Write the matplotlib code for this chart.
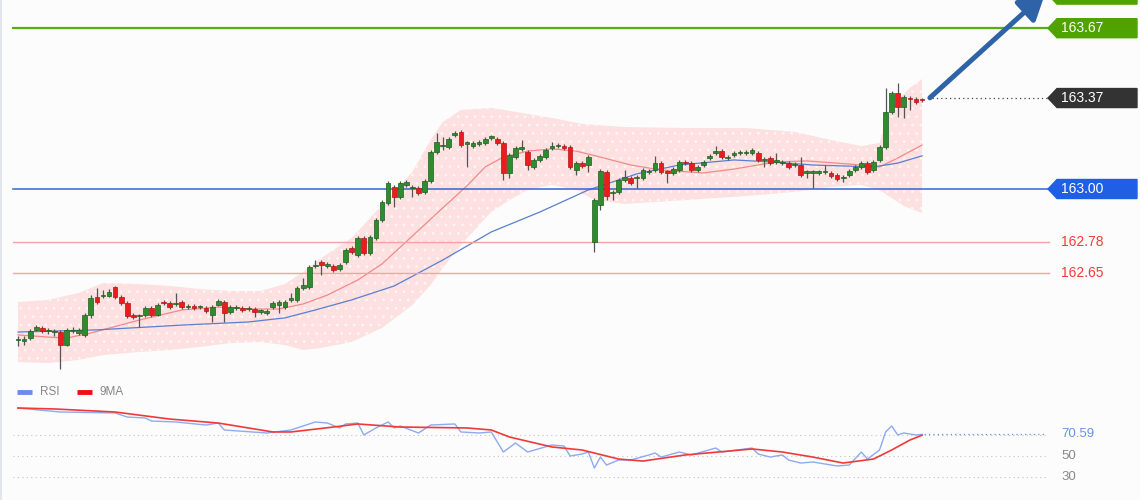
import matplotlib
matplotlib.use("Agg")
import matplotlib.pyplot as plt
from matplotlib.patches import Polygon
import numpy as np

plt.rcParams['font.family'] = ['Liberation Sans', 'DejaVu Sans']
plt.rcParams['hatch.linewidth'] = 0.7

# --- candles (150 bars) ---
opens = [
    162.371, 162.367, 162.379, 162.413, 162.421, 162.408, 162.404, 162.404, 162.350, 162.408,
    162.400, 162.392, 162.475, 162.550, 162.554, 162.554, 162.592, 162.550, 162.525, 162.475,
    162.471, 162.475, 162.504, 162.475, 162.529, 162.525, 162.521, 162.529, 162.508, 162.513,
    162.508, 162.504, 162.475, 162.517, 162.529, 162.488, 162.504, 162.504, 162.500, 162.500,
    162.488, 162.483, 162.508, 162.517, 162.508, 162.538, 162.538, 162.588, 162.592, 162.679,
    162.696, 162.679, 162.679, 162.667, 162.696, 162.754, 162.725, 162.796, 162.733, 162.796,
    162.871, 162.942, 163.008, 162.967, 163.017, 163.004, 163.004, 162.988, 163.033, 163.154,
    163.179, 163.175, 163.225, 163.238, 163.188, 163.179, 163.188, 163.192, 163.213, 163.208,
    163.192, 163.067, 163.133, 163.167, 163.154, 163.092, 163.121, 163.133, 163.171, 163.179,
    163.179, 163.175, 163.079, 163.108, 163.100, 162.779, 162.933, 163.071, 162.983, 162.988,
    163.038, 163.046, 163.046, 163.046, 163.071, 163.079, 163.108, 163.071, 163.067, 163.079,
    163.113, 163.108, 163.079, 163.100, 163.129, 163.150, 163.158, 163.129, 163.142, 163.150,
    163.150, 163.150, 163.150, 163.121, 163.129, 163.113, 163.108, 163.108, 163.100, 163.100,
    163.067, 163.067, 163.067, 163.071, 163.067, 163.058, 163.046, 163.058, 163.079, 163.092,
    163.108, 163.079, 163.121, 163.175, 163.321, 163.400, 163.342, 163.379, 163.375, 163.371,
]
closes = [
    162.375, 162.371, 162.408, 162.425, 162.408, 162.413, 162.408, 162.350, 162.413, 162.413,
    162.413, 162.475, 162.546, 162.529, 162.558, 162.571, 162.550, 162.525, 162.471, 162.467,
    162.475, 162.504, 162.475, 162.517, 162.525, 162.508, 162.525, 162.508, 162.513, 162.504,
    162.513, 162.492, 162.508, 162.533, 162.483, 162.508, 162.508, 162.496, 162.504, 162.488,
    162.492, 162.492, 162.525, 162.529, 162.529, 162.542, 162.588, 162.600, 162.675, 162.683,
    162.683, 162.688, 162.663, 162.683, 162.746, 162.738, 162.796, 162.733, 162.800, 162.871,
    162.946, 163.025, 162.967, 163.025, 163.029, 163.008, 162.983, 163.033, 163.154, 163.196,
    163.183, 163.208, 163.233, 163.183, 163.192, 163.192, 163.196, 163.208, 163.217, 163.192,
    163.067, 163.142, 163.171, 163.171, 163.100, 163.121, 163.138, 163.163, 163.179, 163.183,
    163.171, 163.092, 163.108, 163.096, 163.133, 162.954, 163.075, 162.971, 162.988, 163.038,
    163.050, 163.025, 163.050, 163.079, 163.075, 163.108, 163.071, 163.067, 163.083, 163.113,
    163.108, 163.079, 163.092, 163.113, 163.138, 163.158, 163.133, 163.133, 163.150, 163.154,
    163.154, 163.163, 163.121, 163.125, 163.108, 163.117, 163.113, 163.092, 163.104, 163.058,
    163.071, 163.071, 163.071, 163.075, 163.054, 163.042, 163.050, 163.075, 163.092, 163.108,
    163.071, 163.113, 163.175, 163.321, 163.400, 163.342, 163.383, 163.375, 163.363, 163.370,
]
highs = [
    162.388, 162.388, 162.417, 162.433, 162.429, 162.421, 162.417, 162.413, 162.421, 162.425,
    162.421, 162.483, 162.558, 162.588, 162.579, 162.583, 162.596, 162.558, 162.533, 162.483,
    162.479, 162.513, 162.513, 162.525, 162.538, 162.533, 162.567, 162.538, 162.521, 162.521,
    162.517, 162.513, 162.517, 162.542, 162.538, 162.517, 162.517, 162.513, 162.513, 162.508,
    162.500, 162.500, 162.533, 162.538, 162.538, 162.567, 162.596, 162.629, 162.683, 162.704,
    162.704, 162.696, 162.688, 162.692, 162.754, 162.763, 162.804, 162.804, 162.808, 162.879,
    162.954, 163.033, 163.017, 163.033, 163.038, 163.017, 163.013, 163.042, 163.163, 163.233,
    163.217, 163.217, 163.242, 163.246, 163.200, 163.200, 163.204, 163.217, 163.225, 163.217,
    163.200, 163.150, 163.179, 163.204, 163.163, 163.129, 163.146, 163.171, 163.196, 163.192,
    163.188, 163.183, 163.117, 163.117, 163.142, 162.963, 163.083, 163.079, 162.996, 163.046,
    163.079, 163.054, 163.058, 163.088, 163.083, 163.138, 163.117, 163.079, 163.092, 163.121,
    163.121, 163.117, 163.100, 163.121, 163.146, 163.179, 163.167, 163.142, 163.158, 163.163,
    163.163, 163.171, 163.158, 163.133, 163.138, 163.150, 163.121, 163.117, 163.113, 163.133,
    163.079, 163.079, 163.079, 163.100, 163.075, 163.067, 163.058, 163.083, 163.100, 163.117,
    163.117, 163.121, 163.183, 163.421, 163.408, 163.442, 163.392, 163.388, 163.383, 163.379,
]
lows = [
    162.346, 162.350, 162.371, 162.408, 162.400, 162.396, 162.388, 162.250, 162.346, 162.400,
    162.392, 162.383, 162.463, 162.521, 162.546, 162.550, 162.542, 162.517, 162.463, 162.458,
    162.425, 162.467, 162.467, 162.471, 162.517, 162.500, 162.513, 162.500, 162.500, 162.496,
    162.500, 162.483, 162.446, 162.513, 162.446, 162.479, 162.496, 162.488, 162.492, 162.467,
    162.479, 162.475, 162.500, 162.483, 162.500, 162.529, 162.529, 162.579, 162.583, 162.671,
    162.642, 162.671, 162.654, 162.658, 162.688, 162.729, 162.717, 162.725, 162.725, 162.788,
    162.863, 162.933, 162.925, 162.958, 163.008, 162.967, 162.975, 162.979, 163.025, 163.146,
    163.163, 163.167, 163.217, 163.175, 163.092, 163.171, 163.179, 163.183, 163.204, 163.183,
    163.038, 163.046, 163.125, 163.158, 163.079, 163.083, 163.113, 163.125, 163.163, 163.171,
    163.163, 163.083, 163.058, 163.088, 163.071, 162.738, 162.913, 162.954, 162.954, 162.979,
    163.029, 163.017, 163.004, 163.038, 163.063, 163.071, 163.063, 163.025, 163.058, 163.071,
    163.100, 163.071, 163.071, 163.092, 163.121, 163.142, 163.125, 163.121, 163.133, 163.142,
    163.142, 163.142, 163.113, 163.092, 163.100, 163.104, 163.100, 163.083, 163.092, 163.050,
    163.046, 163.004, 163.058, 163.063, 163.046, 163.033, 163.029, 163.050, 163.071, 163.083,
    163.063, 163.071, 163.113, 163.167, 163.313, 163.300, 163.296, 163.329, 163.354, 163.363,
]

# --- Bollinger band edges and moving averages (read at bar indices) ---
upper_idx = [0, 5, 10, 14, 20, 25, 30, 35, 40, 44, 47, 50, 55, 60, 65, 68, 70, 73, 78, 83,
             88, 93, 100, 110, 120, 128, 134, 139, 142, 143, 145, 147, 149]
upper_band = [162.529, 162.538, 162.567, 162.608, 162.604, 162.596, 162.583, 162.575, 162.575,
              162.604, 162.654, 162.713, 162.796, 162.933, 163.071, 163.204, 163.279, 163.329,
              163.338, 163.317, 163.296, 163.271, 163.258, 163.254, 163.254, 163.238, 163.204,
              163.179, 163.192, 163.288, 163.371, 163.421, 163.458]
lower_idx = [0, 5, 10, 14, 20, 25, 30, 35, 40, 44, 47, 50, 55, 60, 65, 68, 70, 73, 76, 78,
             81, 84, 88, 92, 95, 100, 110, 120, 128, 134, 139, 142, 144, 146, 149]
lower_band = [162.279, 162.275, 162.288, 162.308, 162.321, 162.329, 162.342, 162.358, 162.363,
              162.350, 162.329, 162.338, 162.363, 162.421, 162.517, 162.600, 162.671, 162.767,
              162.850, 162.904, 162.954, 162.996, 163.017, 162.996, 162.954, 162.938, 162.954,
              162.971, 162.988, 163.008, 163.017, 162.996, 162.963, 162.929, 162.900]
ma20_idx = [0, 5, 8, 12, 20, 27, 33, 38, 43, 47, 51, 56, 60, 65, 70, 74, 77, 80, 84, 88,
            92, 96, 101, 106, 113, 118, 125, 130, 137, 142, 145, 149]
ma20 = [162.392, 162.383, 162.379, 162.400, 162.454, 162.496, 162.508, 162.500, 162.500,
        162.521, 162.558, 162.621, 162.688, 162.804, 162.921, 163.013, 163.092, 163.133,
        163.158, 163.167, 163.158, 163.133, 163.100, 163.079, 163.067, 163.083, 163.113,
        163.117, 163.104, 163.092, 163.129, 163.183]
ma50_idx = [0, 13, 27, 38, 44, 49, 55, 62, 70, 78, 86, 94, 102, 109, 118, 124, 131, 141, 145, 149]
ma50 = [162.404, 162.413, 162.433, 162.446, 162.463, 162.496, 162.538, 162.596, 162.704,
        162.821, 162.904, 162.996, 163.063, 163.100, 163.121, 163.113, 163.100, 163.092,
        163.108, 163.138]

# --- RSI panel ---
rsi_idx = [0, 7, 16, 18, 21, 22, 26, 31, 33, 34, 41, 45, 49, 51, 53, 54, 56, 57, 59, 61,
           62, 63, 66, 68, 72, 73, 76, 78, 80, 82, 84, 88, 90, 91, 93, 94, 95, 96, 97, 99,
           101, 104, 105, 106, 109, 111, 115, 116, 121, 122, 124, 126, 127, 129, 131, 135,
           137, 139, 140, 142, 143, 144, 145, 146, 148, 149]
rsi = [95.7, 91.9, 91.0, 87.1, 86.2, 83.3, 82.4, 79.5, 81.4, 74.8, 71.9, 74.8, 82.4, 81.4,
       76.7, 80.5, 81.4, 70.0, 76.7, 82.4, 76.7, 78.6, 71.9, 79.5, 80.5, 72.9, 71.9, 72.9,
       53.8, 62.4, 53.8, 60.5, 59.5, 50.0, 51.9, 53.8, 38.6, 49.0, 41.4, 46.2, 46.2, 51.0,
       52.9, 49.0, 53.8, 51.0, 57.6, 53.8, 57.6, 51.9, 49.0, 51.0, 46.2, 43.3, 44.3, 40.5,
       41.4, 53.8, 47.1, 55.7, 72.9, 78.6, 70.0, 71.9, 70.0, 70.59]
rsi_ma_idx = [0, 6, 16, 25, 33, 42, 45, 52, 56, 63, 74, 78, 81, 88, 93, 99, 103, 110, 121,
              126, 131, 136, 141, 144, 147, 149]
rsi_ma = [95.7, 94.8, 91.9, 85.2, 81.4, 72.9, 72.9, 77.6, 80.5, 77.6, 76.7, 74.8, 68.1, 58.6,
          55.7, 47.1, 45.2, 51.0, 56.7, 53.8, 49.0, 43.3, 47.1, 55.7, 65.2, 69.8]
rsi_grid = [70, 50, 30]
rsi_last = 70.59

# --- levels ---
target_levels = [163.67]
pivot_level = 163.00
support_levels = [162.78, 162.65]
last_price = 163.37
upper_target = 163.81

W, H = 1140, 500
BG = '#fbfcfb'
GREEN_TAG = '#4ea300'
BLUE_TAG = '#1f5fe6'
DARK_TAG = '#333333'
RED_TXT = '#f03c3c'

fig = plt.figure(figsize=(W / 100, H / 100), dpi=100, facecolor=BG)
ax = fig.add_axes([0, 120 / H, 1, 380 / H])
ax2 = fig.add_axes([0, 0, 1, 120 / H])
for a in (ax, ax2):
    a.set_facecolor(BG)
    a.set_xlim(-2.967, 184.93)
    a.axis('off')
ax.set_ylim(162.2042, 163.7875)
ax2.set_ylim(8.10, 122.38)


def fx(px):
    return px / W


# bollinger band + MAs
band_x = np.r_[upper_idx, lower_idx[::-1]]
band_y = np.r_[upper_band, lower_band[::-1]]
ax.fill(band_x, band_y, facecolor='#fde0e0', edgecolor='#fff6f6', hatch='..',
        lw=0, zorder=1)
ax.plot(ma20_idx, ma20, color='#f28a8a', lw=0.9, zorder=2)
ax.plot(ma50_idx, ma50, color='#5a7fd0', lw=0.9, zorder=2)

# candles
o = np.array(opens)
c = np.array(closes)
hi = np.array(highs)
lo = np.array(lows)
idx = np.arange(len(o))
up = c >= o
ax.vlines(idx, lo, hi, color='#555555', lw=0.9, zorder=3)
body = np.maximum(np.abs(c - o), 0.006)
bottom = np.minimum(o, c)
ax.bar(idx[up], body[up], bottom=bottom[up], width=0.78, color='#2e8b2e',
       edgecolor='#1e5e1e', lw=0.5, zorder=4)
ax.bar(idx[~up], body[~up], bottom=bottom[~up], width=0.78, color='#e81e1e',
       edgecolor='#b51414', lw=0.5, zorder=4)

# horizontal levels
for lv in target_levels:
    ax.axhline(lv, xmin=fx(13), xmax=fx(1049), color='#58b010', lw=1.6, zorder=2)
ax.axhline(pivot_level, xmin=fx(13), xmax=fx(1049), color='#2f66dc', lw=1.1, zorder=2)
for lv in support_levels:
    ax.axhline(lv, xmin=fx(13), xmax=fx(1049), color='#f4a2a2', lw=1.0, zorder=2)
ax.axhline(last_price + 0.009, xmin=fx(932), xmax=fx(1049), color='#444444',
           lw=0.9, ls=(0, (1, 2.5)), zorder=2)

# price tags on the right
per_px = (ax.get_ylim()[1] - ax.get_ylim()[0]) / ax.bbox.height
tr = ax.get_yaxis_transform()


def price_tag(price, label, color):
    h = 9.5 * per_px
    pts = [(fx(1048), price), (fx(1057), price + h), (fx(1137), price + h),
           (fx(1137), price - h), (fx(1057), price - h)]
    ax.add_patch(Polygon(pts, closed=True, transform=tr, color=color,
                         clip_on=False, zorder=6))
    if label:
        ax.text(fx(1061), price, label, transform=tr, color='white', fontsize=10,
                va='center', ha='left', zorder=7, clip_on=False)


price_tag(upper_target, '', GREEN_TAG)
for lv in target_levels:
    price_tag(lv, f'{lv:.2f}', GREEN_TAG)
price_tag(last_price + 0.009, f'{last_price:.2f}', DARK_TAG)
price_tag(pivot_level, f'{pivot_level:.2f}', BLUE_TAG)
for lv in support_levels:
    ax.text(fx(1061), lv, f'{lv:.2f}', transform=tr, color=RED_TXT, fontsize=10,
            va='center', ha='left')

# direction arrow
ax.annotate('', xy=(169.3, 163.815), xytext=(150.3, last_price + 0.01),
            arrowprops=dict(arrowstyle='-|>,head_length=0.65,head_width=0.36',
                            color='#2f63a8', lw=3.6, mutation_scale=24,
                            shrinkA=0, shrinkB=0),
            annotation_clip=False, zorder=8)

# RSI panel
for g in rsi_grid:
    ax2.axhline(g, xmin=fx(13), xmax=fx(1046), color='#c4c4c4', lw=0.8,
                ls=(0, (1, 3)), zorder=1)
ax2.axhline(rsi_last, xmin=fx(924), xmax=fx(1046), color='#6d8fe6', lw=0.9,
            ls=(0, (1, 2.5)), zorder=2)
ax2.plot(rsi_idx, rsi, color='#8eaaf0', lw=1.0, zorder=3)
ax2.plot(rsi_ma_idx, rsi_ma, color='#f03a3a', lw=1.2, zorder=4)
tr2 = ax2.get_yaxis_transform()
ax2.text(fx(1061), rsi_last, f'{rsi_last:.2f}', transform=tr2, color='#6d8fe6',
         fontsize=9.5, va='center', ha='left')
for g in rsi_grid[1:]:
    ax2.text(fx(1061), g, f'{g}', transform=tr2, color='#8a8a8a', fontsize=9.5,
             va='center', ha='left')

# legend
ax2.plot([fx(17), fx(32)], [0.9, 0.9], transform=ax2.transAxes, color='#6a8ee8',
         lw=3.5, solid_capstyle='butt')
ax2.text(fx(40), 0.9, 'RSI', transform=ax2.transAxes, color='#888888', fontsize=8.5,
         va='center')
ax2.plot([fx(77), fx(92)], [0.9, 0.9], transform=ax2.transAxes, color='#ee1111',
         lw=3.5, solid_capstyle='butt')
ax2.text(fx(100), 0.9, '9MA', transform=ax2.transAxes, color='#888888', fontsize=8.5,
         va='center')

# left border
fig.add_artist(plt.Line2D([0.5 / W, 0.5 / W], [0, 1], color='#dde2ea', lw=1.2))

fig.savefig('out.png', dpi=100, facecolor=BG)
